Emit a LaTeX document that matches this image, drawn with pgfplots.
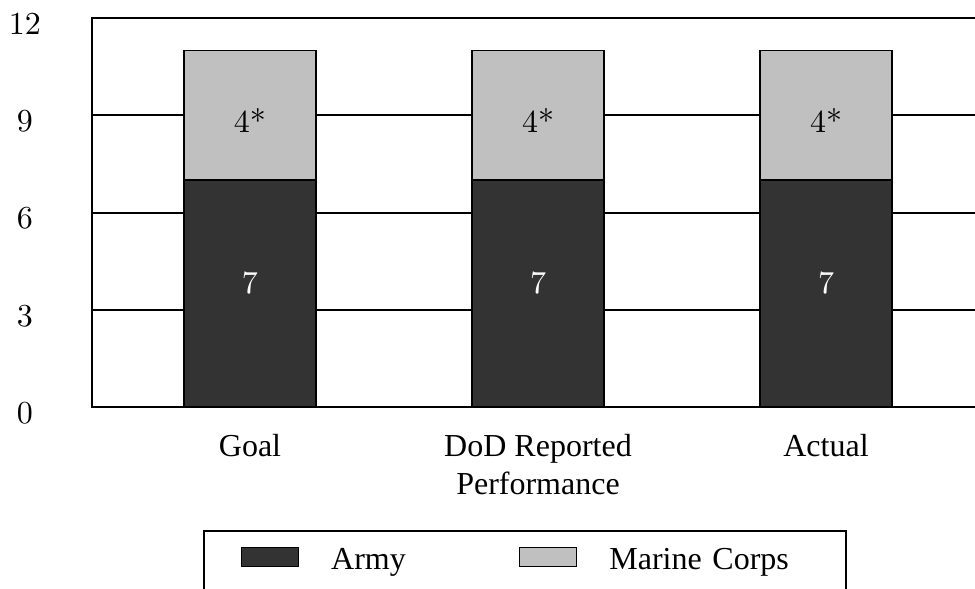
\documentclass[border=0pt]{standalone}
\usepackage{fontspec}
\setmainfont{Liberation Serif}
\newfontfamily\lm{lmroman10-regular}[Extension=.otf]
\usepackage{pgfplots}
\pgfplotsset{compat=1.18}
\definecolor{army}{HTML}{333333}
\definecolor{marine}{HTML}{C0C0C0}
\pgfplotsset{mylegend/.style={legend image code/.code={\draw[##1,line width=0.6pt] (0pt,11pt) rectangle (28.5pt,20.5pt);}}}
\begin{document}
\fontsize{16}{19}\selectfont
\begin{tikzpicture}
\useasboundingbox (-46pt,-91pt) rectangle (441.5pt,203.5pt);
\clip (-46pt,-91pt) rectangle (441.5pt,203.5pt);
\begin{axis}[
  at={(0pt,0pt)}, anchor=south west,
  scale only axis, width=442pt, height=194.5pt,
  xmin=-0.5486, xmax=2.5208, ymin=0, ymax=12,
  ytick={0,3,6,9,12},
  xtick={0,1,2},
  xticklabels={Goal,{DoD Reported\\Performance},Actual},
  major tick length=0pt,
  ymajorgrids, grid style={black,line width=1pt},
  axis line style={line width=1pt},
  ybar stacked, bar width=66pt,
  every axis plot post/.append style={mylegend},
  /pgf/number format/assume math mode=true,
  xticklabel style={align=center, anchor=north, inner sep=0pt, yshift=-13.5pt},
  yticklabel style={font=\lm, anchor=center, inner sep=0pt, xshift=-33.5pt, yshift=-3pt},
  legend columns=2,
  legend style={at={(0.1256,-0.3162)}, anchor=north west, draw=black, line width=1pt,
    inner xsep=18.5pt, inner ysep=8pt,
    nodes={inner sep=0pt, text width=100pt, align=left, text height=11pt, text depth=30pt},
    /tikz/every even column/.append style={column sep=-6pt},
    /tikz/every odd column/.append style={column sep=16pt}},
]
\addplot[fill=army, draw=black, line width=0.7pt,
  nodes near coords={\lm 7},
  every node near coord/.append style={text=white, anchor=center, yshift=5.25pt}]
  coordinates {(0,7) (1,7) (2,7)};
\addlegendentry{Army}
\addplot[fill=marine, draw=black, line width=0.7pt,
  nodes near coords={\lm 4*},
  every node near coord/.append style={text=black, anchor=center, yshift=-2.5pt}]
  coordinates {(0,4) (1,4) (2,4)};
\addlegendentry{Marine Corps}
\end{axis}
\end{tikzpicture}
\end{document}
